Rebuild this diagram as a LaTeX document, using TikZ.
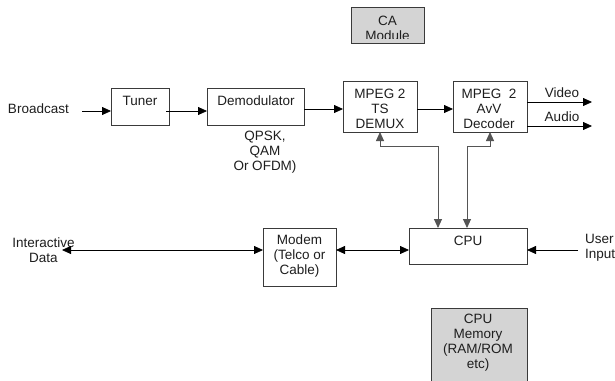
\documentclass[tikz,border=0pt]{standalone}
\usepackage{fontspec}
\setmainfont{Liberation Sans}
\usetikzlibrary{arrows.meta}
\definecolor{edge}{HTML}{3A3A3A}
\definecolor{wire}{HTML}{555555}
\definecolor{panel}{HTML}{D4D4D4}
\definecolor{ink}{HTML}{1E1E1E}
\begin{document}
\begin{tikzpicture}[x=1pt,y=-1pt,
  every node/.style={inner sep=0pt,outer sep=0pt},
  blk/.style={draw=edge,line width=0.8pt,fill=white},
  gblk/.style={draw=edge,line width=0.8pt,fill=panel},
  lbl/.style={text=ink,align=center,font=\fontsize{13.5}{15}\selectfont},
  arr/.style={draw=black,line width=0.8pt,-{Triangle[length=9pt,width=8pt]}},
  barr/.style={draw=black,line width=0.8pt,{Triangle[length=9pt,width=8pt]}-{Triangle[length=9pt,width=8pt]}},
  varr/.style={draw=wire,line width=0.9pt,{Triangle[length=9pt,width=8pt]}-{Triangle[length=9pt,width=8pt]}}]
\useasboundingbox (0,0) rectangle (615,380);
\clip (0,0) rectangle (615,380);
\fill[white] (0,0) rectangle (615,380);

% blocks
\node[gblk,minimum width=73pt,minimum height=36pt] (ca) at (387.5,25) {};
\node[blk,minimum width=58pt,minimum height=37pt] (tuner) at (140,106.5) {};
\node[blk,minimum width=97pt,minimum height=37pt] (demod) at (255.5,106.5) {};
\node[blk,minimum width=74pt,minimum height=51pt] (demux) at (380,106.5) {};
\node[blk,minimum width=74pt,minimum height=51pt] (dec) at (490,106.5) {};
\node[blk,minimum width=73pt,minimum height=58pt] (modem) at (299.5,257) {};
\node[blk,minimum width=118pt,minimum height=36pt] (cpu) at (468,246) {};
\node[gblk,minimum width=96pt,minimum height=90pt] (mem) at (479,353) {};

% texts
\node[lbl] (catop) at (387.5,21) {CA};
\begin{scope}
  \clip (352,8) rectangle (423,38.5);
  \node[lbl] (cabot) at (387.5,36) {Module};
\end{scope}
\begin{scope}
  \clip (0,95) rectangle (100,112.5);
  \node[lbl,anchor=west] (bcast) at (8,109) {Broadcast};
\end{scope}
\node[lbl] (tunert) at (140,100.5) {Tuner};
\node[lbl] (demodt) at (256,100.5) {Demodulator};
\node[lbl] (mods) at (265,152) {QPSK,\\QAM\\Or OFDM)};
\node[lbl] (demuxt) at (380,109) {MPEG 2\\TS\\DEMUX};
\node[lbl] (dect) at (489,109) {MPEG\ \ 2\\AvV\\Decoder};
\node[lbl] (video) at (562,93) {Video};
\node[lbl] (audio) at (562,117) {Audio};
\node[lbl] (idata) at (43.5,250) {Interactive\\Data};
\node[lbl] (modemt) at (299.5,256) {Modem\\(Telco or\\Cable)};
\node[lbl] (cput) at (468,240.5) {CPU};
\node[lbl,align=left,anchor=west] (user) at (585,247.5) {User\\Input};
\node[lbl] (memt) at (478,343) {CPU\\Memory\\(RAM/ROM\\etc)};

% connector end points
\coordinate (b0) at (82,111);
\coordinate (t0) at (166,111);
\coordinate (d0) at (304,109);
\coordinate (vout) at (592,102);
\coordinate (aout) at (592,126);
\coordinate (j1) at (438,146);
\coordinate (j2) at (467,146);
\coordinate (iend) at (62,250);
\coordinate (uin) at (578,250);

% broadcast chain
\draw[arr] (b0) -- (b0 -| tuner.west);
\draw[arr] (t0) -- (t0 -| demod.west);
\draw[arr] (d0) -- (d0 -| demux.west);
\draw[arr] (demux.east |- d0) -- (dec.west |- d0);
\draw[arr] (dec.east |- vout) -- (vout);
\draw[arr] (dec.east |- aout) -- (aout);

% control links to the CPU
\draw[varr] (demux.south) |- (j1) -- (j1 |- cpu.north);
\draw[varr] (dec.south) |- (j2) -- (j2 |- cpu.north);

% interactive path
\draw[barr] (iend) -- (iend -| modem.west);
\draw[barr] (modem.east |- iend) -- (cpu.west |- iend);
\draw[arr] (uin) -- (uin -| cpu.east);
\end{tikzpicture}
\end{document}
